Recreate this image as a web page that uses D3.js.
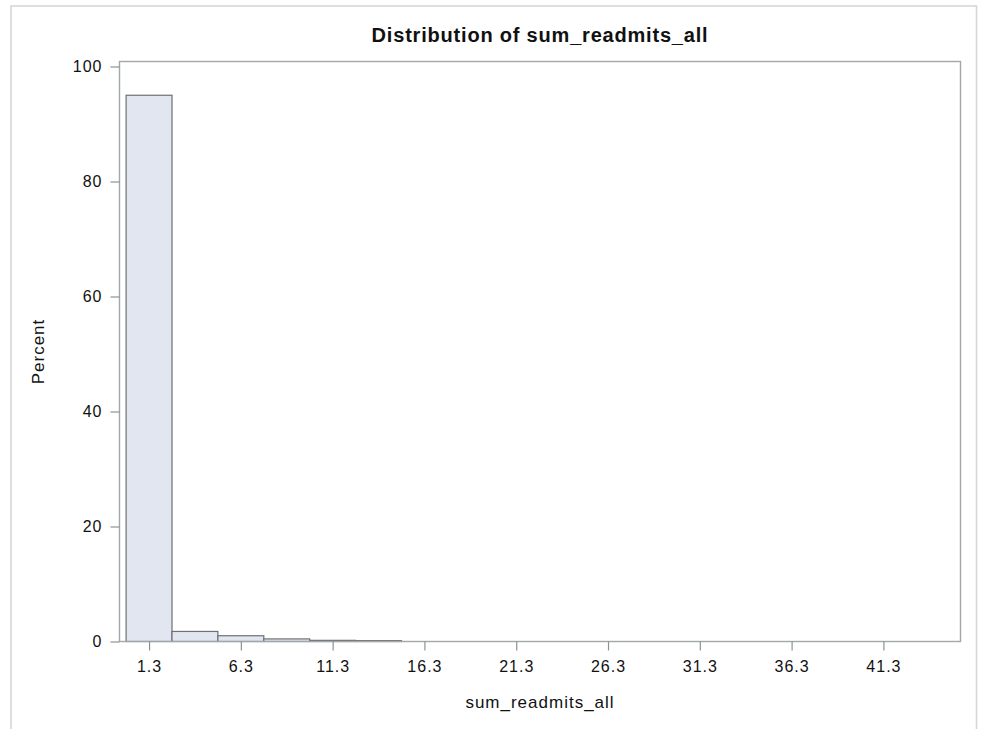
<!DOCTYPE html>
<html>
<head>
<meta charset="utf-8">
<script src="https://cdn.jsdelivr.net/npm/d3@7"></script>
<style>
  html, body { margin: 0; padding: 0; background: #fff; }
  svg { display: block; }
  text { font-family: Arial, "Liberation Sans", sans-serif; fill: #111; }
</style>
</head>
<body>
<svg id="chart" width="982" height="729"></svg>
<script>
// histogram bins (SAS midpoints) and percent per bin
var midpoints = [1.3, 3.8, 6.3, 8.8, 11.3, 13.8];
var percents = [95.0, 1.75, 1.0, 0.45, 0.2, 0.15];
var binWidth = 2.5;

var xTicks = [1.3, 6.3, 11.3, 16.3, 21.3, 26.3, 31.3, 36.3, 41.3];
var yTicks = [0, 20, 40, 60, 80, 100];

var title = "Distribution of sum_readmits_all",
    xLabel = "sum_readmits_all",
    yLabel = "Percent";

(function() {
    var svg = d3.select("#chart");

    var pLeft = 119.5, pRight = 960.5, pTop = 61.5, pBottom = 641.5;

    var x = d3.scaleLinear().domain([-0.31, 45.5]).range([pLeft, pRight]);
    var y = d3.scaleLinear().domain([0, 100.87]).range([pBottom, pTop]);

    // outer graph border
    svg.append("rect")
        .attr("x", 11).attr("y", 6)
        .attr("width", 965.5).attr("height", 760)
        .attr("fill", "none")
        .attr("stroke", "#d6d6d6")
        .attr("stroke-width", 1.6);

    var bins = midpoints.map(function(m, i) { return {mid: m, pct: percents[i]}; });

    svg.append("g").selectAll("rect")
        .data(bins)
        .enter().append("rect")
        .attr("x", function(d) { return x(d.mid - binWidth / 2); })
        .attr("y", function(d) { return y(d.pct); })
        .attr("width", function(d) { return x(d.mid + binWidth / 2) - x(d.mid - binWidth / 2); })
        .attr("height", function(d) { return y(0) - y(d.pct); })
        .attr("fill", "#e2e6f0")
        .attr("stroke", "#6e7072")
        .attr("stroke-width", 1.2);

    // plot frame
    svg.append("rect")
        .attr("x", pLeft).attr("y", pTop)
        .attr("width", pRight - pLeft).attr("height", pBottom - pTop)
        .attr("fill", "none")
        .attr("stroke", "#a2a7aa")
        .attr("stroke-width", 1.4);

    var xAxis = svg.append("g")
        .attr("transform", "translate(0," + pBottom + ")")
        .call(d3.axisBottom(x).tickValues(xTicks).tickFormat(d3.format(".1f")).tickSize(9).tickPadding(10));

    var yAxis = svg.append("g")
        .attr("transform", "translate(" + pLeft + ",0)")
        .call(d3.axisLeft(y).tickValues(yTicks).tickSize(9).tickPadding(8));

    [xAxis, yAxis].forEach(function(a) {
        a.select(".domain").remove();
        a.selectAll(".tick line").attr("stroke", "#8e9194").attr("stroke-width", 1.2);
        a.selectAll(".tick text")
            .style("font-size", "16px")
            .style("letter-spacing", "1px")
            .attr("fill", "#111");
    });

    svg.append("text")
        .attr("x", (pLeft + pRight) / 2).attr("y", 42)
        .attr("text-anchor", "middle")
        .style("font-size", "20px")
        .style("font-weight", "bold")
        .style("letter-spacing", "0.8px")
        .text(title);

    svg.append("text")
        .attr("x", (pLeft + pRight) / 2).attr("y", 708)
        .attr("text-anchor", "middle")
        .style("font-size", "17px")
        .style("letter-spacing", "1px")
        .text(xLabel);

    svg.append("text")
        .attr("transform", "translate(44," + (pTop + pBottom) / 2 + ") rotate(-90)")
        .attr("text-anchor", "middle")
        .style("font-size", "17px")
        .style("letter-spacing", "1px")
        .text(yLabel);
})();
</script>
</body>
</html>
